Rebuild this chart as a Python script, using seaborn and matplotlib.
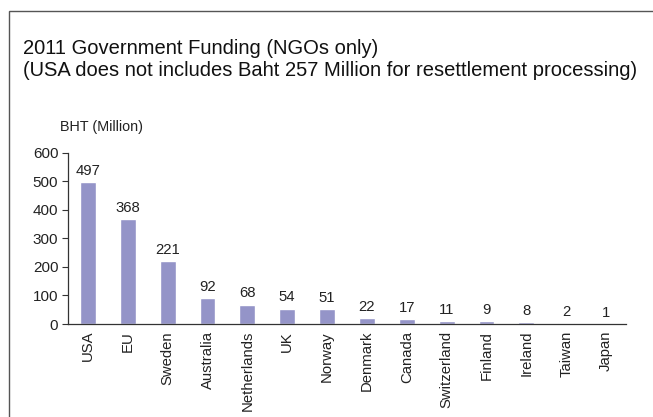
import matplotlib
matplotlib.use("Agg")
import matplotlib.pyplot as plt
import seaborn as sns
import pandas as pd
from matplotlib.patches import Rectangle

countries = ["USA", "EU", "Sweden", "Australia", "Netherlands", "UK", "Norway",
             "Denmark", "Canada", "Switzerland", "Finland", "Ireland", "Taiwan", "Japan"]
funding = [497, 368, 221, 92, 68, 54, 51, 22, 17, 11, 9, 8, 2, 1]
y_ticks = [0, 100, 200, 300, 400, 500, 600]

sns.set_style("white")
plt.rcParams["font.family"] = ["Liberation Sans", "DejaVu Sans"]

df = pd.DataFrame({"country": countries, "funding": funding})

W, H = 653, 417
fig = plt.figure(figsize=(W / 100, H / 100), dpi=100)

# frame around the panel
fig.patches.append(Rectangle((9 / W, -0.05), 1.2, (H - 11) / H + 0.05,
                             transform=fig.transFigure, fill=False,
                             edgecolor="#555555", linewidth=1.0))

ax = fig.add_axes([68 / W, (H - 324) / H, (626 - 68) / W, (324 - 152.7) / H])
sns.barplot(data=df, x="country", y="funding", color="#9494c8", saturation=1,
            width=0.4, ax=ax)

ax.set_ylim(0, 600)
ax.set_xlim(-0.5, len(countries) - 0.5)
ax.set_yticks(y_ticks)
ax.set_yticklabels([str(v) for v in y_ticks], fontsize=11, color="#222222")
ax.set_xticks(range(len(countries)))
ax.set_xticklabels(countries, rotation=90, fontsize=10.7, color="#222222")
ax.tick_params(axis="x", which="major", length=0, pad=5)
ax.set_xticks([i - 0.5 for i in range(len(countries) + 1)], minor=True)
ax.tick_params(axis="x", which="minor", length=4, width=0.8, color="#333333", direction="out")
ax.tick_params(axis="y", length=4, width=0.8, color="#333333", direction="out", pad=3, left=True)
ax.set_xlabel("")
ax.set_ylabel("")

for s in ["top", "right"]:
    ax.spines[s].set_visible(False)
for s in ["left", "bottom"]:
    ax.spines[s].set_color("#333333")
    ax.spines[s].set_linewidth(0.9)

for i, v in enumerate(funding):
    ax.annotate(str(v), (i, v), xytext=(0, 3), textcoords="offset points",
                ha="center", va="bottom", fontsize=10.7, color="#222222")

fig.text(23 / W, 1 - 48 / H, "2011 Government Funding (NGOs only)",
         fontsize=14.5, color="#111111", va="center", ha="left")
fig.text(23 / W, 1 - 70 / H, "(USA does not includes Baht 257 Million for resettlement processing)",
         fontsize=14.5, color="#111111", va="center", ha="left")
fig.text(60 / W, 1 - 127 / H, "BHT (Million)", fontsize=10.4, color="#222222",
         va="center", ha="left")

fig.savefig("out.png", dpi=100)
